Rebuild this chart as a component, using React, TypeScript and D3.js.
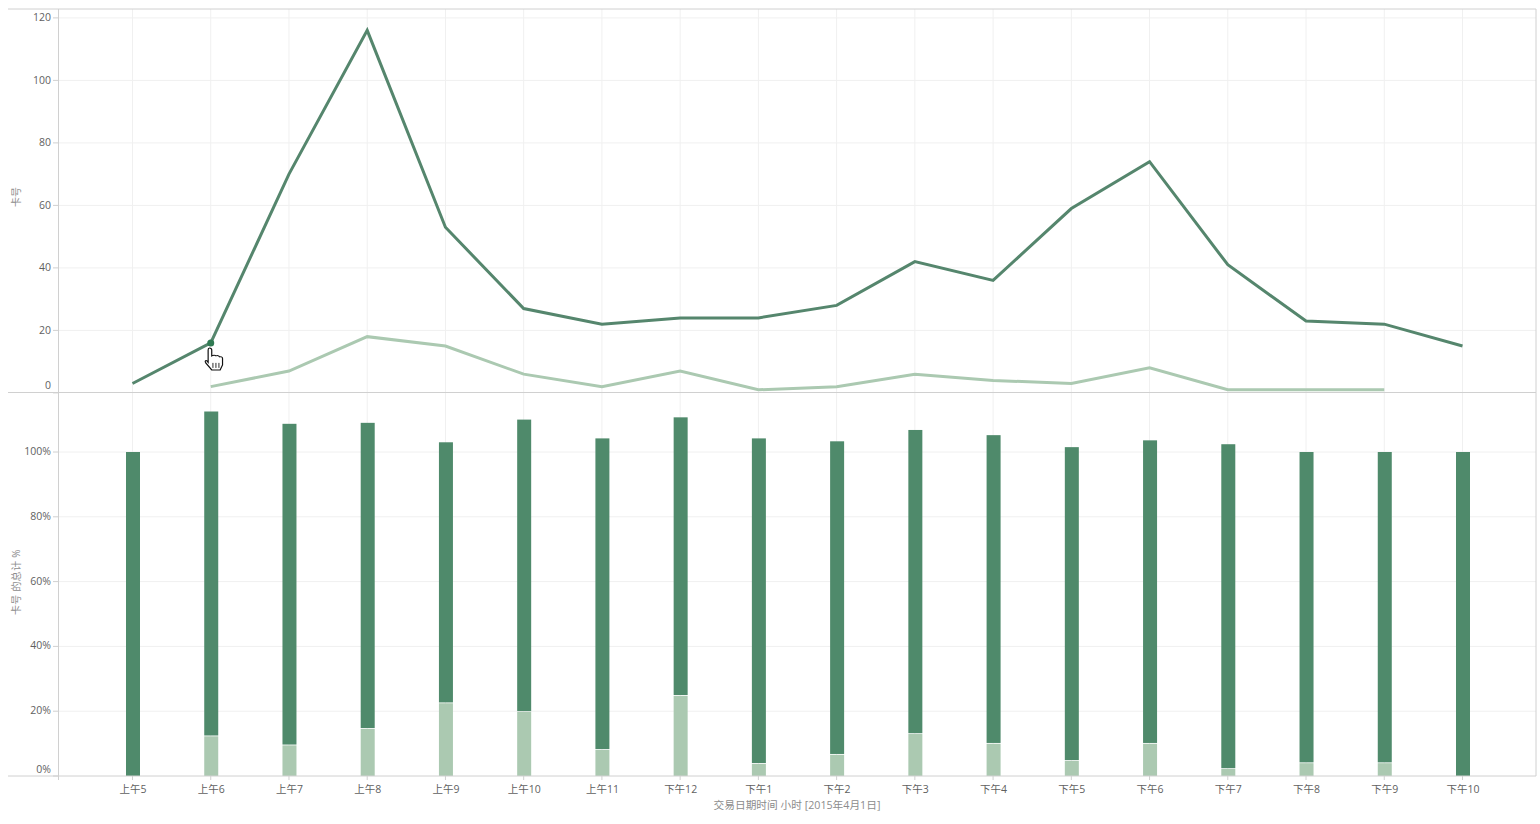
import React from "react";
import * as d3 from "d3";

const hours = ["上午5","上午6","上午7","上午8","上午9","上午10","上午11","下午12","下午1","下午2","下午3","下午4","下午5","下午6","下午7","下午8","下午9","下午10"];
const darkCounts = [3,16,70,116,53,27,22,24,24,28,42,36,59,74,41,23,22,15];
const lightHours = hours.slice(1, 17);
const lightCounts = [2,7,18,15,6,2,7,1,2,6,4,3,8,1,1,1];
const lightPct = [0,12.5,9.7,14.8,22.7,20,8.3,25,4,6.8,13.2,10.2,4.9,10.2,2.4,4.2,4.2,0];
const totalPct = [100,112.5,108.7,109,103,110,104.2,110.7,104.2,103.3,106.8,105.2,101.5,103.6,102.4,100,100,100];
const countTicks = [0,20,40,60,80,100,120];
const pctTicks = [0,20,40,60,80,100];

const DARK = "#4f8a6b";
const LIGHT = "#abc9b1";
const LINE_DARK = "#55866d";
const GRID = "#f0f0f0";
const AXIS = "#d0d0d0";
const TEXT = "#5f5f5f";
const TITLE = "#8c8c8c";
const FONT = "'Open Sans','Noto Sans CJK SC',sans-serif";

export default function App() {
  const x = d3.scalePoint<string>().domain(hours).range([132.5, 1462.5]);
  const yTop = d3.scaleLinear().domain([0, 120]).range([392.9, 17.9]);
  const yBot = d3.scaleLinear().domain([0, 100]).range([776, 452]);
  const line = d3.line<number>().y((d) => yTop(d));
  const darkPath = line.x((_, i) => x(hours[i])!)(darkCounts)!;
  const lightPath = line.x((_, i) => x(lightHours[i])!)(lightCounts)!;
  const barW = 14;
  const dotX = x("上午6")!;
  const dotY = yTop(darkCounts[1]);

  return (
    <svg width={1540} height={824} style={{ position: "absolute", left: 0, top: 0, background: "#fff" }} fontFamily={FONT}>
      {hours.map((h) => (
        <g key={h}>
          <line x1={x(h)} x2={x(h)} y1={9} y2={776} stroke={GRID} />
          <line x1={x(h)} x2={x(h)} y1={776} y2={780} stroke={AXIS} />
          <text x={x(h)! + 0.5} y={793} textAnchor="middle" fontSize={10.5} fill={TEXT}>{h}</text>
        </g>
      ))}
      {countTicks.map((t) => (
        <g key={t}>
          {t > 0 && <line x1={58} x2={1536} y1={yTop(t)} y2={yTop(t)} stroke={GRID} />}
          <line x1={53} x2={58} y1={yTop(t)} y2={yTop(t)} stroke={AXIS} />
          <text x={51} y={t === 0 ? 389 : yTop(t) + 3.5} textAnchor="end" fontSize={10.5} fill={TEXT}>{t}</text>
        </g>
      ))}
      {pctTicks.map((t) => (
        <g key={t}>
          {t > 0 && <line x1={58} x2={1536} y1={yBot(t)} y2={yBot(t)} stroke={GRID} />}
          <line x1={53} x2={58} y1={yBot(t)} y2={yBot(t)} stroke={AXIS} />
          <text x={51} y={t === 0 ? 773 : yBot(t) + 3} textAnchor="end" fontSize={10.5} fill={TEXT}>{t}%</text>
        </g>
      ))}

      {hours.map((h, i) => (
        <g key={h}>
          <rect x={x(h)! - barW / 2 + 0.5} width={barW} y={yBot(totalPct[i])} height={yBot(lightPct[i]) - yBot(totalPct[i])} fill={DARK} />
          {lightPct[i] > 0 && (
            <rect x={x(h)! - barW / 2 + 0.5} width={barW} y={yBot(lightPct[i]) + 0.8} height={yBot(0) - yBot(lightPct[i]) - 0.8} fill={LIGHT} />
          )}
        </g>
      ))}

      <line x1={8} x2={1536} y1={9} y2={9} stroke={AXIS} />
      <line x1={8} x2={1536} y1={392.5} y2={392.5} stroke={AXIS} />
      <line x1={8} x2={1536} y1={776} y2={776} stroke={AXIS} />
      <line x1={58.5} x2={58.5} y1={9} y2={780} stroke={AXIS} />
      <line x1={1536} x2={1536} y1={9} y2={776} stroke={AXIS} />

      <path d={lightPath} fill="none" stroke={LIGHT} strokeWidth={3} />
      <path d={darkPath} fill="none" stroke={LINE_DARK} strokeWidth={3} />
      <circle cx={dotX} cy={dotY} r={3.5} fill="#2f7a52" />

      <g transform={`translate(${dotX - 5},${dotY + 5}) scale(1.2,1)`}>
        <path
          d="M3 0 C4.5 0 5 1 5 2 L5 8 C6 7 8 7 8.5 8 C9.5 7.5 11 7.5 11.5 9 C12.5 8.5 14 9 14 10.5 L14 17 L12 22 L5 22 L0 15 C-1 13 0 12 1 13 L2 14.5 L2 2 C2 1 2.5 0 3 0 Z"
          fill="#fff"
          stroke="#111"
          strokeWidth={1}
        />
        <path d="M6 15 V20 M8.5 15 V20 M11 15 V20" stroke="#111" strokeWidth={0.8} />
      </g>

      <text transform="translate(20,197) rotate(-90)" textAnchor="middle" fontSize={10} fill={TITLE}>卡号</text>
      <text transform="translate(20,582) rotate(-90)" textAnchor="middle" fontSize={10} letterSpacing={0.3} fill={TITLE}>卡号 的总计 %</text>
      <text x={797} y={809} textAnchor="middle" fontSize={10.7} fill={TITLE}>交易日期时间 小时 [2015年4月1日]</text>
    </svg>
  );
}
